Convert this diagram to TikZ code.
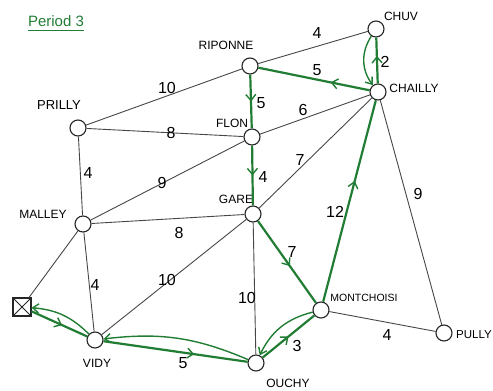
\documentclass[tikz,border=0pt]{standalone}
\usepackage{fontspec}
\setmainfont{Liberation Sans}
\usetikzlibrary{arrows.meta,decorations.markings}
\definecolor{routegreen}{RGB}{34,125,52}
\definecolor{roadgrey}{RGB}{70,70,70}
\begin{document}
\begin{tikzpicture}[x=1pt,y=1pt,
  stop/.style={circle,draw=black!85,fill=white,line width=1.1pt,minimum size=16pt,inner sep=0pt},
  depot/.style={rectangle,draw=black!85,fill=white,line width=1.1pt,minimum size=18pt,inner sep=0pt,
    path picture={\draw[black!85,line width=0.9pt]
      (path picture bounding box.south west) -- (path picture bounding box.north east)
      (path picture bounding box.north west) -- (path picture bounding box.south east);}},
  road/.style={draw=roadgrey,line width=0.9pt},
  route/.style={draw=routegreen,line width=2.2pt},
  back/.style={draw=routegreen,line width=1.4pt,-{Straight Barb[length=6pt,width=9pt]}},
  flow/.style={postaction={decorate},decoration={markings,mark=at position #1 with
    {\arrow[routegreen,line width=1.4pt]{Straight Barb[length=6pt,width=10pt]}}}},
  place/.style={font=\fontsize{12}{12}\selectfont,inner sep=0pt},
  weight/.style={font=\fontsize{16}{16}\selectfont,inner sep=0pt}]
\useasboundingbox (0,0) rectangle (493,-391);

% title
\node[font=\fontsize{15}{15}\selectfont,text=routegreen,inner sep=0pt] (title) at (56,-21) {Period 3};
\draw[routegreen,line width=1pt] ([yshift=-4pt]title.south west) -- ([yshift=-4pt]title.south east);

% stops
\node[stop] (rip) at (250,-66) {};
\node[stop] (chu) at (376,-29) {};
\node[stop] (cha) at (378,-92) {};
\node[stop] (pri) at (78,-128) {};
\node[stop] (flo) at (252,-137) {};
\node[stop] (mal) at (83,-224) {};
\node[stop] (gar) at (253,-214) {};
\node[stop] (mon) at (321,-310) {};
\node[stop] (pul) at (444,-333) {};
\node[stop] (vid) at (95,-340) {};
\node[stop] (ouc) at (256,-363) {};
\node[depot] (dep) at (22,-307) {};

% stop names
\node[place] at (226,-45) {RIPONNE};
\node[place] at (401,-16) {CHUV};
\node[place] at (414,-88) {CHAILLY};
\node[place,font=\fontsize{13}{13}\selectfont] at (59,-105) {PRILLY};
\node[place] at (232,-123) {FLON};
\node[place] at (236,-199) {GARE};
\node[place] at (43,-214) {MALLEY};
\node[place] at (97,-363) {VIDY};
\node[place] at (288,-383) {OUCHY};
\node[place,font=\fontsize{10.5}{10.5}\selectfont] at (364,-298) {MONTCHOISI};
\node[place,font=\fontsize{11.5}{11.5}\selectfont] at (474,-335) {PULLY};

% roads
\draw[road] (pri) -- (rip);
\draw[road] (rip) -- (chu);
\draw[road] (pri) -- (flo);
\draw[road] (flo) -- (cha);
\draw[road] (pri) -- (mal);
\draw[road] (mal) -- (flo);
\draw[road] (mal) -- (gar);
\draw[road] (gar) -- (cha);
\draw[road] (mal) -- (vid);
\draw[road] (mal) -- (dep);
\draw[road] (vid) -- (gar);
\draw[road] (gar) -- (ouc);
\draw[road] (mon) -- (pul);
\draw[road] (cha) -- (pul);

% route
\draw[route,flow=0.55] (dep) -- (vid);
\draw[back] (vid) to[bend right=20] (dep);
\draw[route,flow=0.63] (vid) -- (ouc);
\draw[back] (ouc) to[bend right=15] (vid);
\draw[route,flow=0.5] (ouc) -- (mon);
\draw[back] (mon) to[bend right=25] (ouc);
\draw[route,flow=0.55] (gar) -- (mon);
\draw[route,flow=0.6] (mon) -- (cha);
\draw[route,flow=0.6] (cha) -- (chu);
\draw[back] (chu) to[bend right=35] (cha);
\draw[route,flow=0.35] (cha) -- (rip);
\draw[route,flow=0.5] (rip) -- (flo);
\draw[route,flow=0.5] (flo) -- (gar);

% weights
\node[weight] at (167,-88) {10};
\node[weight] at (171,-133) {8};
\node[weight] at (88,-173) {4};
\node[weight] at (162,-183) {9};
\node[weight] at (317,-33) {4};
\node[weight] at (317,-70) {5};
\node[weight] at (385,-62) {2};
\node[weight] at (261,-103) {5};
\node[weight] at (303,-110) {6};
\node[weight] at (300,-160) {7};
\node[weight] at (263,-177) {4};
\node[weight] at (418,-194) {9};
\node[weight] at (179,-233) {8};
\node[weight] at (95,-285) {4};
\node[weight] at (167,-280) {10};
\node[weight] at (183,-363) {5};
\node[weight] at (335,-212) {12};
\node[weight] at (292,-252) {7};
\node[weight] at (247,-298) {10};
\node[weight] at (387,-335) {4};
\node[weight] at (297,-346) {3};
\end{tikzpicture}
\end{document}
